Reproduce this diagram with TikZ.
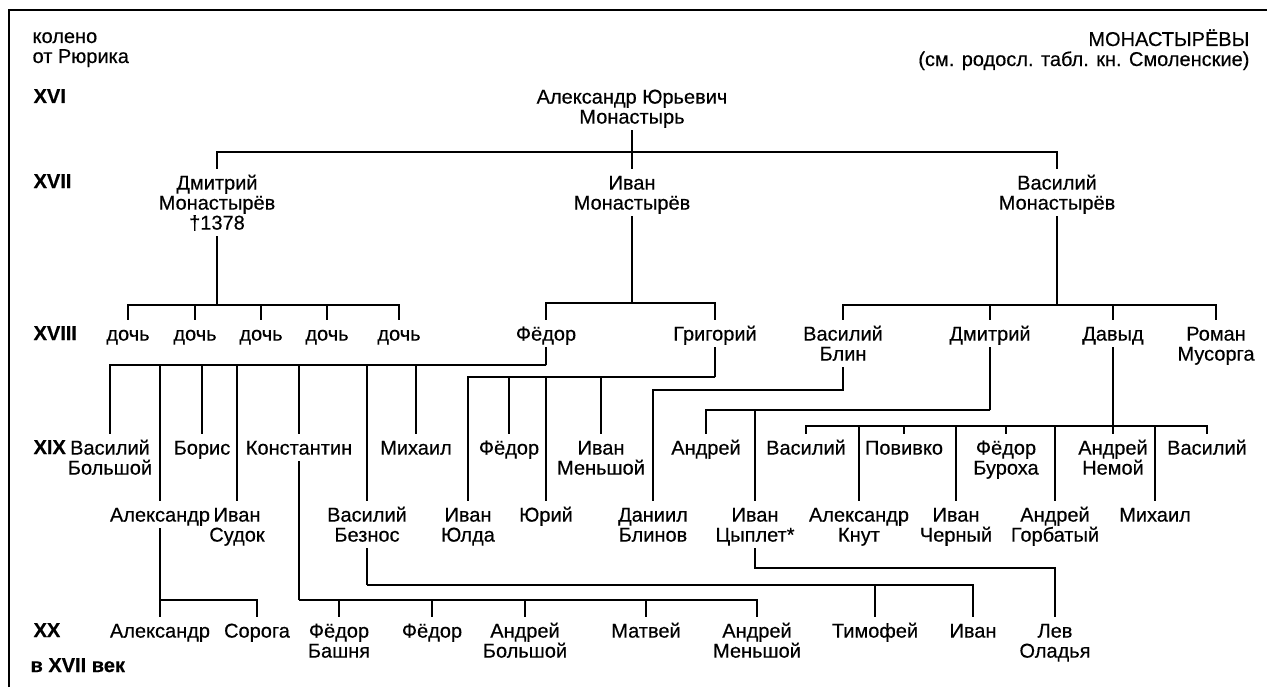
\documentclass[tikz,border=0pt]{standalone}
\usepackage{fontspec}
\setmainfont{Liberation Sans}[FakeBold=0.4]
\newcommand\chartfont{\fontsize{10bp}{10bp}\selectfont\lineskiplimit=-20pt\relax}
\newcommand\namestrut{\rule{0pt}{9.5bp}}

\begin{document}
\begin{tikzpicture}[
  x=0.5bp, y=-0.5bp,
  font=\chartfont,
  every path/.style={line width=0.6bp},
  person/.style={anchor=north, align=center, inner xsep=0pt, inner ysep=0.5bp,
    execute at end node=\rule[-2.5bp]{0pt}{2.5bp}},
  gen/.style={anchor=base west, align=left, inner sep=0pt, font=\chartfont\bfseries},
  note/.style={anchor=base west, align=left, inner sep=0pt},
  border/.style={line width=1bp}
]
\useasboundingbox (0,0) rectangle (1267,687);

% ----- Frame (top and left edge of the plate)
\draw[border] (9,687) -- (9,10) -- (1267,10);

% ----- Generation column and heading
\node[note] (koleno) at (32,63) {колено\\от Рюрика};
\node[gen] (g16) at (33,103) {XVI};
\node[gen] (g17) at (33,188) {XVII};
\node[gen] (g18) at (33,340) {XVIII};
\node[gen] (g19) at (33,454) {XIX};
\node[gen] (g20) at (33,637) {XX};
\node[gen] (cent) at (30,672) {в XVII век};
\node[anchor=base east, align=right, inner sep=0pt] (title) at (1250,66)
  {МОНАСТЫРЁВЫ\\(см. родосл. табл. кн. Смоленские)};

% ----- XVI
\node[person] (aleks) at (632,83) {\namestrut Александр Юрьевич\\Монастырь};

% ----- XVII
\node[person] (dmitM) at (217,169) {\namestrut Дмитрий\\Монастырёв\\†1378};
\node[person] (ivanM) at (632,169) {\namestrut Иван\\Монастырёв};
\node[person] (vasM)  at (1057,169) {\namestrut Василий\\Монастырёв};

% ----- XVIII
\node[person] (doch1) at (128,320) {\namestrut дочь};
\node[person] (doch2) at (195,320) {\namestrut дочь};
\node[person] (doch3) at (261,320) {\namestrut дочь};
\node[person] (doch4) at (327,320) {\namestrut дочь};
\node[person] (doch5) at (399,320) {\namestrut дочь};
\node[person] (fedor) at (546,320) {\namestrut Фёдор};
\node[person] (grig)  at (715,320) {\namestrut Григорий};
\node[person] (vblin) at (843,320) {\namestrut Василий\\Блин};
\node[person] (dmit)  at (990,320) {\namestrut Дмитрий};
\node[person] (davyd) at (1113,320) {\namestrut Давыд};
\node[person] (roman) at (1216,320) {\namestrut Роман\\Мусорга};

% ----- XIX, upper row
\node[person] (vbol)    at (110,434) {\namestrut Василий\\Большой};
\node[person] (boris)   at (202,434) {\namestrut Борис};
\node[person] (konst)   at (299,434) {\namestrut Константин};
\node[person] (mikh)    at (416,434) {\namestrut Михаил};
\node[person] (fedor2)  at (509,434) {\namestrut Фёдор};
\node[person] (ivanMen) at (601,434) {\namestrut Иван\\Меньшой};
\node[person] (andr)    at (706,434) {\namestrut Андрей};
\node[person] (vasD)    at (806,434) {\namestrut Василий};
\node[person] (poviv)   at (904,434) {\namestrut Повивко};
\node[person] (fedBur)  at (1006,434) {\namestrut Фёдор\\Буроха};
\node[person] (andrNem) at (1113,434) {\namestrut Андрей\\Немой};
\node[person] (vasD2)   at (1207,434) {\namestrut Василий};

% ----- XIX, lower row
\node[person] (aleks2)  at (160,501) {\namestrut Александр};
\node[person] (ivanSud) at (237,501) {\namestrut Иван\\Судок};
\node[person] (vasBez)  at (367,501) {\namestrut Василий\\Безнос};
\node[person] (ivanYul) at (468,501) {\namestrut Иван\\Юлда};
\node[person] (yuri)    at (546,501) {\namestrut Юрий};
\node[person] (danBl)   at (653,501) {\namestrut Даниил\\Блинов};
\node[person] (ivanTs)  at (755,501) {\namestrut Иван\\Цыплет*};
\node[person] (aleksKn) at (859,501) {\namestrut Александр\\Кнут};
\node[person] (ivanCh)  at (956,501) {\namestrut Иван\\Черный};
\node[person] (andrGor) at (1055,501) {\namestrut Андрей\\Горбатый};
\node[person] (mikh2)   at (1155,501) {\namestrut Михаил};

% ----- XX
\node[person] (aleks3)  at (160,617) {\namestrut Александр};
\node[person] (soroga)  at (257,617) {\namestrut Сорога};
\node[person] (fedBash) at (339,617) {\namestrut Фёдор\\Башня};
\node[person] (fedor3)  at (432,617) {\namestrut Фёдор};
\node[person] (andrBol) at (525,617) {\namestrut Андрей\\Большой};
\node[person] (matv)    at (646,617) {\namestrut Матвей};
\node[person] (andrMen) at (757,617) {\namestrut Андрей\\Меньшой};
\node[person] (timof)   at (875,617) {\namestrut Тимофей};
\node[person] (ivan3)   at (973,617) {\namestrut Иван};
\node[person] (levOl)   at (1055,617) {\namestrut Лев\\Оладья};

% ----- Bus points (parent x, bar height)
\coordinate (busAleks)  at (632,152);
\coordinate (busDmitM)  at (217,305);
\coordinate (busIvanM)  at (632,303);
\coordinate (busVasM)   at (1057,305);
\coordinate (busFedor)  at (546,365);
\coordinate (busGrig)   at (715,377);
\coordinate (busBlin)   at (843,390);
\coordinate (busDmit)   at (990,410);
\coordinate (busDavyd)  at (1113,426);
\coordinate (busAleks2) at (160,600);
\coordinate (busKonst)  at (299,600);
\coordinate (busBez)    at (367,585);
\coordinate (busTs)     at (755,568);

% ----- Descent lines
\draw (aleks.south) -- (busAleks);
\foreach \c in {dmitM,ivanM,vasM} \draw (busAleks) -| (\c.north);

\draw (dmitM.south) -- (busDmitM);
\foreach \c in {doch1,doch2,doch3,doch4,doch5} \draw (busDmitM) -| (\c.north);

\draw (ivanM.south) -- (busIvanM);
\foreach \c in {fedor,grig} \draw (busIvanM) -| (\c.north);

\draw (vasM.south) -- (busVasM);
\foreach \c in {vblin,dmit,davyd,roman} \draw (busVasM) -| (\c.north);

\draw (fedor.south) -- (busFedor);
\foreach \c in {vbol,aleks2,boris,ivanSud,konst,vasBez,mikh} \draw (busFedor) -| (\c.north);

\draw (grig.south) -- (busGrig);
\foreach \c in {ivanYul,fedor2,yuri,ivanMen} \draw (busGrig) -| (\c.north);

\draw (vblin.south) -- (busBlin) -| (danBl.north);

\draw (dmit.south) -- (busDmit);
\foreach \c in {andr,ivanTs} \draw (busDmit) -| (\c.north);

\draw (davyd.south) -- (busDavyd);
\foreach \c in {vasD,aleksKn,poviv,ivanCh,fedBur,andrGor,andrNem,mikh2,vasD2} \draw (busDavyd) -| (\c.north);

\draw (aleks2.south) -- (busAleks2);
\foreach \c in {aleks3,soroga} \draw (busAleks2) -| (\c.north);

\draw (konst.south) -- (busKonst);
\foreach \c in {fedBash,fedor3,andrBol,matv,andrMen} \draw (busKonst) -| (\c.north);

\draw (vasBez.south) -- (busBez);
\foreach \c in {timof,ivan3} \draw (busBez) -| (\c.north);

\draw (ivanTs.south) -- (busTs) -| (levOl.north);

\end{tikzpicture}
\end{document}
